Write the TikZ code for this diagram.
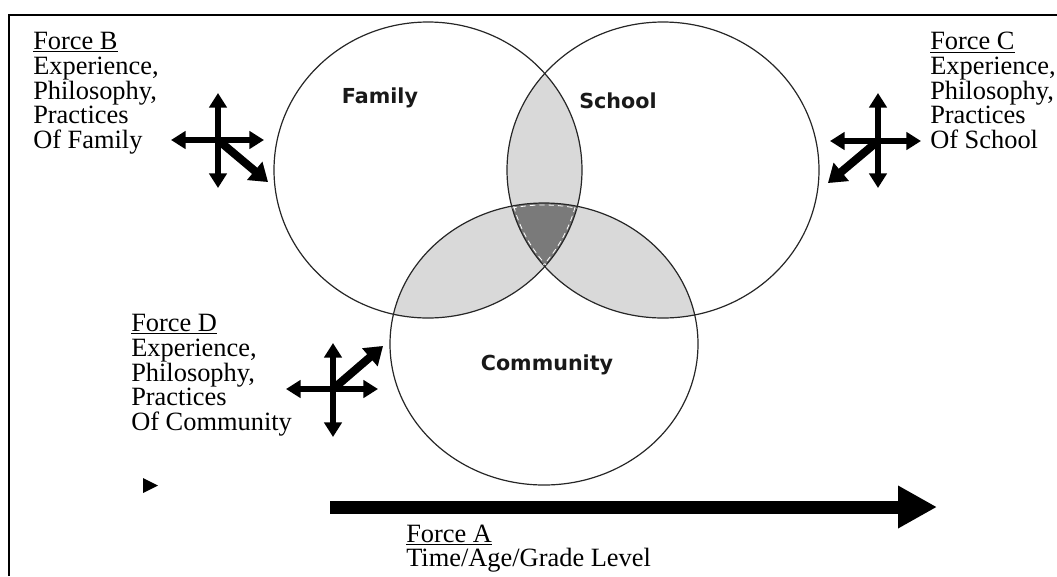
\documentclass[tikz,border=0pt]{standalone}
\usepackage{fontspec}
\setmainfont{Liberation Serif}
\newfontfamily\labelfont{DejaVu Sans}
\usetikzlibrary{arrows.meta}
\definecolor{lensgray}{HTML}{D9D9D9}
\definecolor{coregray}{HTML}{7A7A7A}
\begin{document}
\begin{tikzpicture}[x=0.75pt,y=-0.75pt,
  ring/.style={draw=black!85, line width=0.9pt},
  forcetext/.style={anchor=north west, inner sep=0pt, align=left, font=\fontsize{19.8}{18.56}\selectfont},
  setlabel/.style={font=\labelfont\bfseries\fontsize{15.5}{18}\selectfont, text=black!90, inner sep=0pt},
  crossarm/.style={line width=4pt, -{Triangle[length=11pt,width=13pt]}},
  diagarm/.style={line width=6pt, -{Triangle[length=13pt,width=17pt]}},
  diagshadow/.style={diagarm, draw=black!30, fill=black!30},
  timearrow/.style={line width=9.75pt, -{Triangle[length=29.25pt,width=30pt]}},
  ]
\useasboundingbox (0,0) rectangle (1057,576);
\def\famE{(428,170) ellipse [x radius=154, y radius=148]}
\def\schE{(663,170) ellipse [x radius=156, y radius=148]}
\def\comE{(544,344) ellipse [x radius=154, y radius=141]}
% frame
\draw[line width=1.5pt] (8.5,576) -- (8.5,14.5) -- (1057,14.5);
% overlaps
\begin{scope}\clip \famE; \fill[lensgray] \schE; \fill[lensgray] \comE; \end{scope}
\begin{scope}\clip \schE; \fill[lensgray] \comE; \end{scope}
\begin{scope}\clip \famE; \clip \schE; \fill[coregray] \comE; \end{scope}
% outlines
\draw[ring] \famE;
\draw[ring] \schE;
\draw[ring] \comE;
% dashed white rim of the core
\begin{scope}\clip \famE; \clip \schE;
  \draw[white, line width=0.6pt, dash pattern=on 4pt off 3pt] (544,344) ellipse [x radius=152, y radius=139];
\end{scope}
\begin{scope}\clip \famE; \clip \comE;
  \draw[white, line width=0.6pt, dash pattern=on 4pt off 3pt] (663,170) ellipse [x radius=154, y radius=146];
\end{scope}
\begin{scope}\clip \schE; \clip \comE;
  \draw[white, line width=0.6pt, dash pattern=on 4pt off 3pt] (428,170) ellipse [x radius=152, y radius=146];
\end{scope}
% set labels
\node[setlabel] (family) at (380,98) {Family};
\node[setlabel] (school) at (618,101) {School};
\node[setlabel] (community) at (547,365) {Community};
% force texts
\node[forcetext] (forceB) at (33,32) {\underline{Force B}\\Experience,\\Philosophy,\\Practices\\Of Family};
\node[forcetext] (forceC) at (930,32) {\underline{Force C}\\Experience,\\Philosophy,\\Practices\\Of School};
\node[forcetext] (forceD) at (131,314) {\underline{Force D}\\Experience,\\Philosophy,\\Practices\\Of Community};
\node[forcetext] (forceA) at (406,524.5) {\underline{Force A}\\Time/Age/Grade Level};
% cross B
\coordinate (cB) at (218,140);
\coordinate (cBn) at (218,93);
\coordinate (cBs) at (218,188);
\coordinate (cBw) at (171,140);
\coordinate (cBe) at (264,140);
\coordinate (cBd) at (268,182);
\draw[diagshadow, xshift=-1pt, yshift=-3pt] (cB) -- (cBd);
\draw[crossarm] (cB) -- (cBn);
\draw[crossarm] (cB) -- (cBs);
\draw[crossarm] (cB) -- (cBw);
\draw[crossarm] (cB) -- (cBe);
\draw[diagarm] (cB) -- (cBd);
% cross C
\coordinate (cC) at (878,141);
\coordinate (cCn) at (878,93);
\coordinate (cCs) at (878,188);
\coordinate (cCw) at (830,141);
\coordinate (cCe) at (921,141);
\coordinate (cCd) at (828,183);
\draw[diagshadow, xshift=2pt, yshift=-3pt] (cC) -- (cCd);
\draw[crossarm] (cC) -- (cCn);
\draw[crossarm] (cC) -- (cCs);
\draw[crossarm] (cC) -- (cCw);
\draw[crossarm] (cC) -- (cCe);
\draw[diagarm] (cC) -- (cCd);
% cross D
\coordinate (cD) at (333,389);
\coordinate (cDn) at (333,343);
\coordinate (cDs) at (333,437);
\coordinate (cDw) at (286,389);
\coordinate (cDe) at (378,389);
\coordinate (cDd) at (383,346);
\draw[diagshadow, xshift=2pt, yshift=-3pt] (cD) -- (cDd);
\draw[crossarm] (cD) -- (cDn);
\draw[crossarm] (cD) -- (cDs);
\draw[crossarm] (cD) -- (cDw);
\draw[crossarm] (cD) -- (cDe);
\draw[diagarm] (cD) -- (cDd);
% time arrow
\coordinate (aStart) at (330,507);
\coordinate (aEnd) at (937,507);
\draw[timearrow] (aStart) -- (aEnd);
% small marker
\fill (143,478) -- (158,485.5) -- (143,493) -- cycle;
\end{tikzpicture}
\end{document}
